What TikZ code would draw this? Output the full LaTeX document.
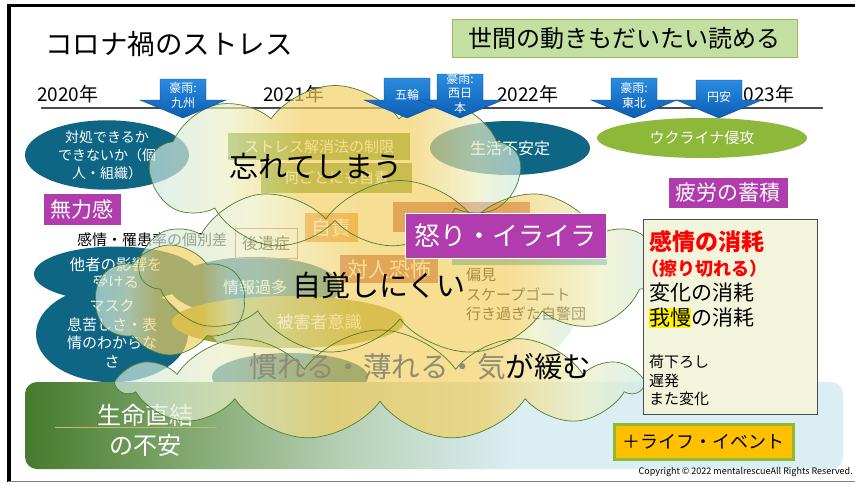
\documentclass[tikz,border=0pt]{standalone}
\usepackage{fontspec}
\setmainfont{Noto Sans CJK JP}
\usetikzlibrary{shapes.symbols,shapes.geometric}
\definecolor{tealc}{HTML}{0F6684}
\definecolor{olivec}{HTML}{8DB83A}
\definecolor{magc}{HTML}{B13CAE}
\definecolor{cw}{HTML}{CFEAE6}
\definecolor{creamc}{HTML}{EDEFC2}
\definecolor{yelc}{HTML}{F3CF60}
\definecolor{g1}{HTML}{467A2C}
\definecolor{g2}{HTML}{82A870}
\definecolor{g3}{HTML}{B8D2B8}
\definecolor{cy}{HTML}{DBEEF3}
\definecolor{arrA}{HTML}{2A8BE0}
\definecolor{arrB}{HTML}{0C5EB4}
\definecolor{cloudline}{HTML}{4E7E2E}
\definecolor{boxolive}{HTML}{6E9A2A}
\definecolor{boxorange}{HTML}{F08A30}
\definecolor{boxred}{HTML}{C0504D}
\definecolor{boxblue}{HTML}{4BACC6}
\definecolor{khaki}{HTML}{A0A030}
\definecolor{greenfill}{HTML}{C4DFA2}
\definecolor{greenline}{HTML}{9BBB59}
\definecolor{creambg}{HTML}{F2F4DC}
\definecolor{lifeorange}{HTML}{FFC000}
\definecolor{fadegray}{HTML}{8E8C76}
\pgfdeclarehorizontalshading{cloudsh}{100bp}{color(0bp)=(cw); color(25bp)=(cw); color(36bp)=(creamc); color(46bp)=(yelc); color(60bp)=(yelc); color(69bp)=(creamc); color(75bp)=(cw); color(100bp)=(cw)}
\pgfdeclarehorizontalshading{bandsh}{100bp}{color(0bp)=(g1); color(25bp)=(g1); color(35bp)=(g2); color(45bp)=(g3); color(55bp)=(cy); color(75bp)=(cy); color(100bp)=(cy)}
\newcommand{\fsz}[2]{\fontsize{#1}{#2}\selectfont}
\newcommand{\blarrow}[5]{%
  \path[arrowsty] (#1-23,#2) -- (#1-23,100) -- (#1-43,100) -- (#1,118) -- (#1+43,100) -- (#1+23,100) -- (#1+23,#2) -- cycle;
  \node[arrowtext] (#3) at (#1,#4) {#5};}
\begin{document}
\begin{tikzpicture}[x=1pt,y=-1pt,
  every node/.style={inner sep=0pt},
  tealell/.style={ellipse, fill=tealc, text=white, align=center},
  oliveell/.style={ellipse, fill=olivec, text=white, align=center},
  magbox/.style={rectangle, fill=magc, draw=white, line width=1pt, text=white},
  oldbox/.style={rectangle, text=white},
  cloudshape/.style={cloud, cloud puffs=#1, cloud puff arc=110, cloud ignores aspect},
  cloudfill/.style={cloudshape=#1, shading=cloudsh},
  cloudline/.style={cloudshape=#1, draw=cloudline, line width=0.7pt},
  arrowsty/.style={top color=arrA, bottom color=arrB, draw=arrB!80!black, line width=0.4pt},
  arrowtext/.style={text=white, align=center, font=\fsz{12}{14.5}},
  yeartext/.style={anchor=west, font=\fsz{19}{21}},
  bigtext/.style={font=\fsz{29}{32}},
  linetext/.style={anchor=west}
]
\useasboundingbox (0,0) rectangle (855,483);
\fill[white] (0,0) rectangle (855,483);
% frame
\draw[line width=3pt] (8,5.5) -- (855,5.5);
\draw[line width=3.5pt] (9,4) -- (9,482);
\draw[gray, line width=1.5pt] (8,481.5) -- (855,481.5);
% title and header
\node[anchor=west] (title) at (45,44) {\fsz{27.5}{30}コロナ禍のストレス};
\node[rectangle, fill=greenfill, draw=greenline, line width=1pt, minimum width=345pt, minimum height=38pt] (seken) at (624.5,38) {\fsz{24}{26}世間の動きもだいたい読める};
% timeline
\coordinate (tl1) at (41,108);
\coordinate (tl2) at (823,108);
\draw[black!70, line width=1.5pt] (tl1) -- (tl2);
\node[yeartext] (y20) at (37,94) {2020年};
\node[yeartext] (y21) at (263,94) {2021年};
\node[yeartext] (y22) at (497,94) {2022年};
\node[yeartext] (y23) at (733,94) {2023年};
% ellipses
\node[tealell, minimum width=164pt, minimum height=66pt, font=\fsz{14}{18}] (taisho) at (107,155) {対処できるか\\できないか（個\\人・組織）};
\node[tealell, minimum width=160pt, minimum height=54pt, font=\fsz{16}{18}] (seikatsu) at (510,148) {生活不安定};
\node[tealell, minimum width=164pt, minimum height=55pt, font=\fsz{15.5}{18}] (tasha) at (116,274) {他者の影響を\\受ける};
\node[tealell, minimum width=152pt, minimum height=72pt, font=\fsz{15}{18.5}] (mask) at (112,334) {マスク\\息苦しさ・表\\情のわからな\\さ};
\node[tealell, minimum width=170pt, minimum height=60pt, font=\fsz{16}{18}] (johokata) at (255,287) {情報過多};
\node[ellipse, fill=khaki, minimum width=232pt, minimum height=52pt] (higaisha) at (288,322) {};
\node[text=white, font=\fsz{17}{19}] (higaishatxt) at (319,322) {被害者意識};
\node[tealell, minimum width=156pt, minimum height=48pt] (narekae) at (290,377) {};
\node[oliveell, minimum width=210pt, minimum height=40pt, font=\fsz{15}{17}] (ukraine) at (702,138) {ウクライナ侵攻};
\node[linetext, font=\fsz{15}{17}] (kobetsu) at (77,240) {感情・罹患率の個別差};
% bottom band
\node[rectangle, rounded corners=12pt, shading=bandsh, minimum width=818pt, minimum height=87pt] (band) at (434,425.5) {};
\coordinate (bl1) at (55,427);
\coordinate (bl2) at (217,427);
\draw[khaki!70, line width=0.8pt] (bl1) -- (bl2);
\node[text=white, align=center, font=\fsz{24}{30}] (seimei) at (145,430) {生命直結\\の不安};
% old boxes under the cloud
\node[oldbox, fill=boxolive, minimum width=182pt, minimum height=27pt, font=\fsz{15}{17}] (stress) at (319,146.5) {ストレス解消法の制限};
\node[oldbox, fill=boxolive, minimum width=151pt, minimum height=30pt, font=\fsz{15}{17}] (jisekiall) at (336.5,178) {何ごとにも自責};
\node[oldbox, fill=boxorange, minimum width=53pt, minimum height=29pt, font=\fsz{20}{22}] (jiseki) at (331.5,227.5) {自責};
\node[rectangle, draw=boxred, line width=1pt, minimum width=62pt, minimum height=30pt, font=\fsz{16}{18}] (kouisho) at (266,243) {後遺症};
\node[oldbox, fill=boxred, minimum width=137pt, minimum height=30pt] (redbox) at (461.5,217) {};
\node[oldbox, fill=boxred, minimum width=98pt, minimum height=28pt, font=\fsz{21}{23}] (taijin) at (389,269) {対人恐怖};
\node[oldbox, fill=boxblue, minimum width=155pt, minimum height=25pt] (bluebox) at (529.5,252.5) {};
\node[linetext, font=\fsz{15}{19.5}, align=left, anchor=north west] (henken) at (466,268) {偏見\\スケープゴート\\行き過ぎた自警団};
% clouds: fills as one semi-transparent group, then outlines
\begin{scope}[transparency group, opacity=0.68]
\node[ellipse, shading=cloudsh, minimum width=380pt, minimum height=200pt] (cloudfiller) at (390,300) {};
\node[cloudfill=9, minimum width=370pt, minimum height=165pt] (cloudAf) at (335,168) {};
\node[cloudfill=11, minimum width=520pt, minimum height=175pt] (cloudBf) at (400,268) {};
\node[cloudfill=6, minimum width=150pt, minimum height=110pt] (cloudDf) at (170,300) {};
\node[cloudfill=11, minimum width=520pt, minimum height=110pt] (cloudCf) at (380,385) {};
\end{scope}
\node[cloudline=9, minimum width=370pt, minimum height=165pt] (cloudA) at (335,168) {};
\node[cloudline=11, minimum width=520pt, minimum height=175pt] (cloudB) at (400,268) {};
\node[cloudline=6, minimum width=150pt, minimum height=110pt] (cloudD) at (170,300) {};
\node[cloudline=11, minimum width=520pt, minimum height=110pt] (cloudC) at (380,385) {};
% arrows
\blarrow{183}{79}{kyushu}{95.5}{豪雨:\\九州}
\blarrow{407}{78}{gorin}{95}{五輪}
\blarrow{460}{74}{nishinihon}{93}{豪雨:\\西日\\本}
\blarrow{634}{78}{tohoku}{95.5}{豪雨:\\東北}
\blarrow{719}{80}{enyasu}{97}{円安}
% foreground
\node[magbox, minimum width=201pt, minimum height=45pt, font=\fsz{26}{28}] (ikari) at (505.5,235.5) {怒り・イライラ};
\node[magbox, minimum width=78pt, minimum height=32pt, font=\fsz{21}{23}] (muryoku) at (82,209) {無力感};
\node[magbox, minimum width=120pt, minimum height=31pt, font=\fsz{21}{23}] (hirou) at (728,192.5) {疲労の蓄積};
\node[bigtext] (wasure) at (316,166) {忘れてしまう};
\node[bigtext] (jikaku) at (379,285) {自覚しにくい};
\node[linetext, font=\fsz{28.5}{31}] (nareru) at (249,367) {{\color{fadegray}慣れる・薄れる・気}が緩む};
% right box
\node[rectangle, fill=creambg, draw=black!70, line width=1pt, minimum width=174pt, minimum height=195pt] (shoumou) at (730,316.5) {};
\node[linetext, text=red, font=\bfseries\fsz{23}{25}] (l1) at (649,242) {感情の消耗};
\node[linetext, text=red, font=\bfseries\fsz{18}{20}] (l2) at (641,269) {（擦り切れる）};
\node[linetext, font=\fsz{21}{23}] (l3) at (649,293) {変化の消耗};
\node[linetext, font=\fsz{21}{23}] (l4) at (649,318) {{\setlength{\fboxsep}{0pt}\colorbox{yellow}{我慢}}の消耗};
\node[linetext, font=\fsz{15}{17}] (l5) at (649,362) {荷下ろし};
\node[linetext, font=\fsz{15}{17}] (l6) at (649,381) {遅発};
\node[linetext, font=\fsz{15}{17}] (l7) at (649,399) {また変化};
% life event
\node[rectangle, fill=lifeorange, draw=olivec, line width=3pt, minimum width=179pt, minimum height=35pt, font=\fsz{18}{20}] (life) at (703.5,441.5) {＋ライフ・イベント};
\node[anchor=east, font=\fsz{9}{10}] (copy) at (853,472) {Copyright © 2022 mentalrescueAll Rights Reserved.};
\end{tikzpicture}
\end{document}
